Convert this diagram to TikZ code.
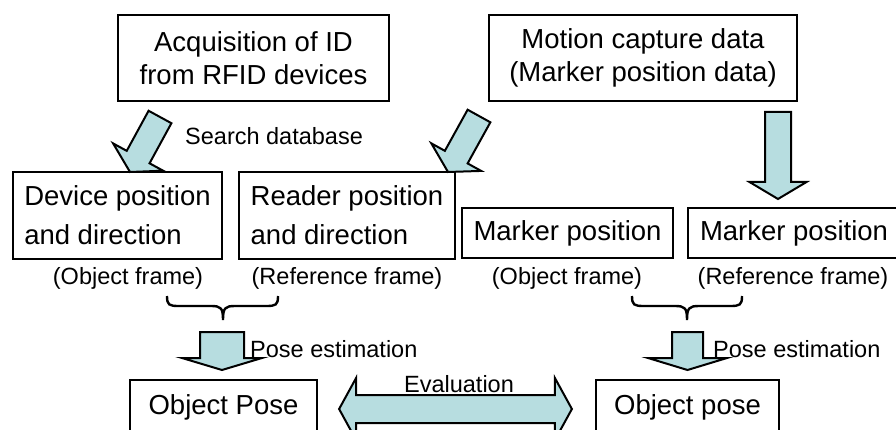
\documentclass[tikz,border=0pt]{standalone}
\usepackage{fontspec}
\setmainfont{Liberation Sans}
\usetikzlibrary{calc}
\definecolor{arrowfill}{RGB}{183,221,224}
\tikzset{
  box/.style={draw=black, line width=2.2pt, inner sep=0pt, align=center,
    font=\fontsize{27.5}{33}\selectfont},
  lbl/.style={inner sep=0pt, font=\fontsize{23.5}{28}\selectfont},
  fat/.style={draw=black, line width=2pt, fill=arrowfill, line join=miter},
  bracestyle/.style={draw=black, line width=2.4pt},
}
% tail, tip, half shaft width, half head width, head length
\newcommand\fatarrowdraw[5]{%
  \coordinate (#1-b) at ($(#2)!#5!(#1)$);
  \draw[fat] ($(#1)!#3!90:(#2)$) -- ($(#1-b)!#3!90:(#2)$) -- ($(#1-b)!#4!90:(#2)$)
    -- (#2) -- ($(#1-b)!#4!-90:(#2)$) -- ($(#1-b)!#3!-90:(#2)$)
    -- ($(#1)!#3!-90:(#2)$) -- cycle;
}
% x1, xm, x2, ytop
\newcommand\bracedraw[4]{%
  \draw[bracestyle] (#1,#4) .. controls (#1,#4+9) and (#1+2,#4+10) .. (#1+12,#4+10)
    -- (#2-12,#4+10) .. controls (#2-2,#4+10) and (#2,#4+12) .. (#2,#4+24)
    .. controls (#2,#4+12) and (#2+2,#4+10) .. (#2+12,#4+10)
    -- (#3-12,#4+10) .. controls (#3-2,#4+10) and (#3,#4+9) .. (#3,#4);
}
\begin{document}
\begin{tikzpicture}[x=1pt, y=-1pt]
  \useasboundingbox (0,0) rectangle (896,430);
  \fill[white] (0,0) rectangle (896,430);
  \clip (0,0) rectangle (896,430);

  % boxes
  \node[box, minimum width=271pt, minimum height=86pt] (acq) at (253.5,58)
    {Acquisition of ID\\from RFID devices};
  \node[box, minimum width=308pt, minimum height=86pt] (mocap) at (643,58)
    {Motion capture data\\(Marker position data)};
  \node[box, align=left, font=\fontsize{27.5}{39}\selectfont,
    minimum width=209pt, minimum height=87pt] (dev) at (117.5,215.5)
    {Device position\\and direction};
  \node[box, align=left, font=\fontsize{27.5}{39}\selectfont,
    minimum width=216pt, minimum height=87pt] (reader) at (347,215.5)
    {Reader position\\and direction};
  \node[box, minimum width=211pt, minimum height=50pt] (mko) at (567.5,233)
    {Marker position};
  \node[box, minimum width=212pt, minimum height=50pt] (mkr) at (794,233)
    {Marker position};
  \node[box, minimum width=187pt, minimum height=54pt] (objL) at (223.5,407)
    {Object Pose};
  \node[box, minimum width=183pt, minimum height=54pt] (objR) at (687.5,407)
    {Object pose};

  % labels
  \node[lbl, anchor=base west] (sdb) at (185,145) {Search database};
  \node[lbl, anchor=base] (of1) at (128,284) {(Object frame)};
  \node[lbl, anchor=base] (rf1) at (347,284) {(Reference frame)};
  \node[lbl, anchor=base] (of2) at (567,284) {(Object frame)};
  \node[lbl, anchor=base] (rf2) at (793,284) {(Reference frame)};
  \node[lbl, anchor=base west] (pe1) at (250,357) {Pose estimation};
  \node[lbl, anchor=base west] (pe2) at (713,357) {Pose estimation};

  % braces
  \bracedraw{167}{223}{278}{296}
  \bracedraw{632}{687}{742}{296}

  % block arrows
  \coordinate (d1t) at (160,117);  \coordinate (d1h) at (130,172);
  \fatarrowdraw{d1t}{d1h}{13pt}{28.5pt}{17pt}
  \coordinate (d2t) at (479,116);  \coordinate (d2h) at (448,172);
  \fatarrowdraw{d2t}{d2h}{13pt}{28.5pt}{17pt}
  \coordinate (vt) at (778,112);   \coordinate (vh) at (778,199);
  \fatarrowdraw{vt}{vh}{13pt}{28.5pt}{17pt}
  \coordinate (p1t) at (222,332);  \coordinate (p1h) at (222,370);
  \fatarrowdraw{p1t}{p1h}{22pt}{40pt}{12pt}
  \coordinate (p2t) at (687.5,332); \coordinate (p2h) at (687.5,370);
  \fatarrowdraw{p2t}{p2h}{15.5pt}{39.5pt}{12pt}

  % evaluation double arrow
  \coordinate (evL) at ($(objL.east)+(21,2)$);
  \coordinate (evR) at ($(objR.west)+(-23,2)$);
  \draw[fat] (evL) -- ($(evL)+(17,-31)$) -- ($(evL)+(17,-14)$)
    -- ($(evR)+(-17,-14)$) -- ($(evR)+(-17,-31)$) -- (evR)
    -- ($(evR)+(-17,31)$) -- ($(evR)+(-17,14)$)
    -- ($(evL)+(17,14)$) -- ($(evL)+(17,31)$) -- cycle;
  \node[lbl, anchor=base] (ev) at (459,392) {Evaluation};
\end{tikzpicture}
\end{document}
